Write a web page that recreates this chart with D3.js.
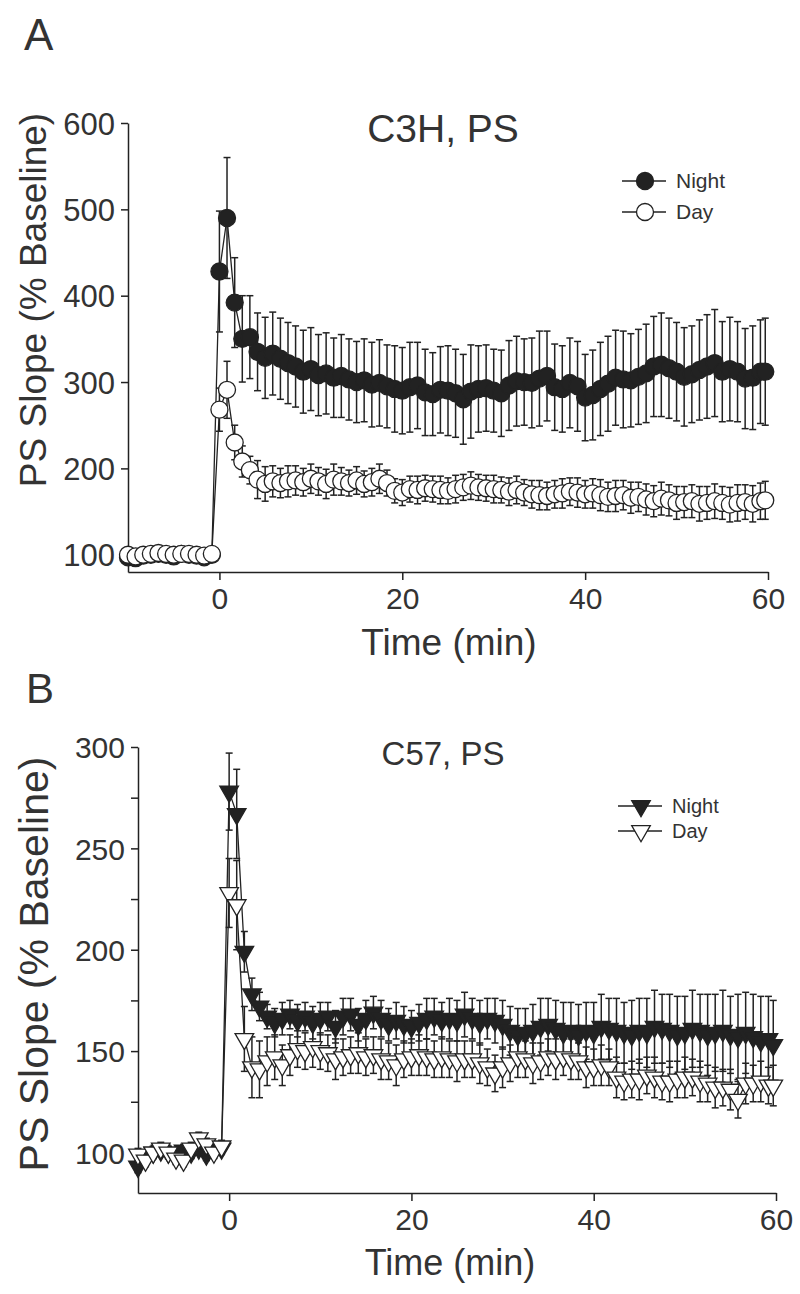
<!DOCTYPE html>
<html lang="en">
<head>
<meta charset="utf-8">
<title>PS slope</title>
<script src="https://cdnjs.cloudflare.com/ajax/libs/d3/7.8.5/d3.min.js"></script>
<style>
  body { margin: 0; background: #fff; }
  svg text { font-family: "Liberation Sans", Arial, sans-serif; fill: #333; }
  .axis path, .axis line { stroke: #222; stroke-width: 1.5px; }
  .axis text { fill: #333; }
</style>
</head>
<body>
<div id="chart"></div>
<script>
// time points (min), baseline then post-stimulation
var times = [-10, -9.17, -8.33, -7.5, -6.67, -5.83, -5, -4.17, -3.33, -2.5, -1.67, -0.83,
  0, 0.83, 1.67, 2.5, 3.33, 4.17, 5, 5.83, 6.67, 7.5, 8.33, 9.17, 10, 10.83, 11.67, 12.5,
  13.33, 14.17, 15, 15.83, 16.67, 17.5, 18.33, 19.17, 20, 20.83, 21.67, 22.5, 23.33, 24.17,
  25, 25.83, 26.67, 27.5, 28.33, 29.17, 30, 30.83, 31.67, 32.5, 33.33, 34.17, 35, 35.83,
  36.67, 37.5, 38.33, 39.17, 40, 40.83, 41.67, 42.5, 43.33, 44.17, 45, 45.83, 46.67, 47.5,
  48.33, 49.17, 50, 50.83, 51.67, 52.5, 53.33, 54.17, 55, 55.83, 56.67, 57.5, 58.33, 59.17, 59.7];

// panel A: C3H
var c3hNight = [97, 96, 99, 100, 101, 100, 98, 101, 100, 99, 97, 100,
  428, 490, 392, 350, 352, 335, 328, 333, 327, 322, 318, 312, 315, 308, 310, 305, 307, 303,
  300, 302, 297, 299, 295, 292, 290, 294, 296, 288, 286, 291, 290, 287, 280, 289, 292, 293,
  290, 287, 296, 301, 300, 299, 304, 307, 294, 292, 299, 295, 282, 285, 292, 298, 305, 303,
  302, 306, 310, 318, 320, 316, 312, 306, 309, 314, 318, 322, 312, 315, 312, 304, 305, 312, 312];
var c3hNightErr = [3, 3, 3, 3, 3, 3, 3, 3, 3, 3, 3, 3,
  70, 70, 52, 50, 48, 45, 47, 48, 47, 47, 47, 48, 48, 47, 47, 46, 48, 47,
  47, 48, 49, 50, 48, 50, 50, 52, 50, 50, 48, 50, 52, 51, 52, 54, 50, 50,
  48, 50, 52, 52, 50, 52, 55, 52, 50, 50, 52, 52, 50, 52, 54, 55, 55, 56,
  54, 55, 57, 58, 60, 58, 57, 57, 56, 58, 60, 62, 58, 60, 58, 58, 60, 60, 62];
var c3hDay = [100, 98, 100, 101, 102, 101, 100, 101, 101, 100, 99, 101,
  268, 291, 230, 208, 198, 187, 182, 185, 183, 185, 186, 184, 188, 185, 182, 187, 185, 183,
  186, 182, 184, 188, 183, 174, 172, 176, 175, 177, 176, 175, 174, 176, 178, 180, 178, 177,
  176, 175, 173, 175, 172, 170, 169, 168, 170, 171, 173, 172, 170, 171, 169, 167, 168, 169,
  166, 167, 164, 162, 165, 163, 160, 161, 162, 159, 160, 162, 160, 158, 160, 161, 159, 162, 163];
var c3hDayErr = [3, 3, 3, 3, 3, 3, 3, 3, 3, 3, 3, 3,
  25, 33, 20, 18, 16, 22, 20, 18, 17, 18, 17, 16, 17, 16, 17, 18, 16, 15,
  16, 15, 16, 17, 15, 14, 15, 15, 16, 15, 15, 16, 15, 16, 15, 16, 15, 15,
  16, 15, 16, 16, 15, 16, 17, 16, 16, 17, 16, 17, 16, 17, 18, 17, 18, 17,
  18, 17, 18, 18, 19, 18, 19, 18, 19, 20, 19, 20, 19, 20, 21, 20, 21, 21, 22];

// panel B: C57
var c57Night = [93, 97, 100, 101, 100, 98, 101, 100, 102, 99, 101, 102,
  278, 267, 199, 178, 172, 167, 164, 166, 168, 165, 167, 164, 166, 167, 162, 167, 168, 163,
  166, 169, 166, 163, 165, 163, 162, 164, 166, 167, 165, 166, 165, 168, 166, 164, 166, 165,
  163, 160, 158, 159, 160, 162, 163, 161, 159, 160, 158, 160, 159, 162, 161, 160, 159, 158,
  160, 159, 162, 161, 160, 158, 159, 161, 160, 158, 159, 160, 158, 157, 159, 157, 155, 156, 153];
var c57NightErr = [3, 3, 3, 3, 3, 3, 3, 3, 3, 3, 3, 3,
  19, 22, 10, 8, 7, 6, 7, 8, 7, 8, 7, 8, 8, 7, 8, 9, 8, 8,
  9, 8, 9, 8, 9, 9, 8, 9, 10, 9, 9, 10, 10, 11, 10, 11, 10, 11,
  12, 12, 13, 12, 13, 14, 13, 14, 15, 14, 15, 14, 15, 16, 15, 16, 15, 17,
  16, 17, 18, 17, 18, 19, 18, 19, 18, 20, 19, 20, 19, 21, 20, 21, 22, 21, 22];
var c57Day = [99, 96, 100, 102, 100, 97, 96, 102, 107, 104, 100, 103,
  228, 222, 156, 142, 141, 145, 147, 143, 148, 151, 150, 152, 150, 149, 146, 147, 148, 149,
  147, 148, 146, 145, 143, 146, 147, 148, 147, 146, 147, 146, 145, 146, 146, 144, 142, 139,
  142, 144, 147, 146, 144, 145, 147, 146, 147, 146, 145, 142, 142, 143, 142, 137, 135, 136,
  136, 138, 137, 135, 135, 136, 137, 137, 135, 134, 132, 132, 131, 126, 134, 134, 135, 133, 133];
var c57DayErr = [3, 3, 3, 3, 3, 3, 3, 3, 3, 3, 3, 3,
  17, 22, 16, 15, 14, 12, 11, 10, 10, 9, 9, 10, 9, 9, 10, 9, 9, 10,
  9, 9, 10, 9, 10, 9, 9, 10, 9, 9, 10, 9, 10, 9, 9, 10, 9, 9,
  10, 9, 10, 9, 10, 9, 9, 10, 9, 10, 9, 10, 9, 10, 9, 10, 9, 9,
  10, 9, 10, 9, 10, 9, 10, 9, 10, 9, 10, 9, 10, 9, 10, 9, 10, 9, 10];

var xTicks = [0, 20, 40, 60];
var c3hTicks = [100, 200, 300, 400, 500, 600];
var c57Ticks = [100, 150, 200, 250, 300];
var c57Minor = [125, 175, 225, 275];
var legendLabels = ["Night", "Day"];

var W = 800, H = 1294;
var svg = d3.select("#chart").append("svg").attr("width", W).attr("height", H);
var ink = "#222";

function drawPanel(p) {
  var x = d3.scaleLinear().domain([-10, 60]).range(p.xr);
  var y = d3.scaleLinear().domain(p.yd).range(p.yr);
  var g = svg.append("g");

  // axes
  var xa = g.append("g").attr("class", "axis")
    .attr("transform", "translate(0," + p.yr[0] + ")")
    .call(d3.axisBottom(x).tickValues(xTicks).tickSize(8).tickSizeOuter(0).tickPadding(8));
  xa.selectAll("text").attr("font-size", p.xtf);
  var ya = g.append("g").attr("class", "axis")
    .attr("transform", "translate(" + p.xr[0] + ",0)")
    .call(d3.axisLeft(y).tickValues(p.yt).tickSize(7).tickSizeOuter(0).tickPadding(6));
  ya.selectAll("text").attr("font-size", p.ytf).attr("dy", "0.36em");
  if (p.minor) {
    g.append("g").attr("class", "axis")
      .attr("transform", "translate(" + p.xr[0] + ",0)")
      .call(d3.axisLeft(y).tickValues(p.minor).tickSize(7).tickFormat(""))
      .select(".domain").remove();
  }

  // series
  p.series.forEach(function (s) {
    var pts = times.map(function (t, i) { return { t: t, v: s.v[i], e: s.e[i] }; });
    g.append("path").datum(pts)
      .attr("fill", "none").attr("stroke", ink).attr("stroke-width", 1.3)
      .attr("d", d3.line().x(function (d) { return x(d.t); }).y(function (d) { return y(d.v); }));
    var eb = g.append("g").attr("stroke", ink).attr("stroke-width", 1.5);
    eb.selectAll("line.v").data(pts).enter().append("line")
      .attr("x1", function (d) { return x(d.t); }).attr("x2", function (d) { return x(d.t); })
      .attr("y1", function (d) { return y(d.v - d.e); }).attr("y2", function (d) { return y(d.v + d.e); });
    [1, -1].forEach(function (sg) {
      eb.selectAll(null).data(pts).enter().append("line")
        .attr("x1", function (d) { return x(d.t) - 3.5; }).attr("x2", function (d) { return x(d.t) + 3.5; })
        .attr("y1", function (d) { return y(d.v + sg * d.e); }).attr("y2", function (d) { return y(d.v + sg * d.e); });
    });
    drawMarks(g, pts.map(function (d) { return [x(d.t), y(d.v)]; }), p.shape, s.fill);
  });

  // titles
  g.append("text").attr("x", p.letter[0]).attr("y", p.letter[1])
    .attr("font-size", p.letter[2]).text(p.tag);
  g.append("text").attr("x", p.title[0]).attr("y", p.title[1]).attr("text-anchor", "middle")
    .attr("font-size", p.title[2]).text(p.name);
  g.append("text").attr("transform", "translate(" + p.ylab[0] + "," + p.ylab[1] + ") rotate(-90)")
    .attr("text-anchor", "middle").attr("font-size", p.ylab[2]).text("PS Slope (% Baseline)");
  g.append("text").attr("x", p.xlab[0]).attr("y", p.xlab[1]).attr("text-anchor", "middle")
    .attr("font-size", p.xlab[2]).text("Time (min)");

  // legend
  p.series.forEach(function (s, i) {
    var ly = p.leg[1] + i * p.leg[2];
    g.append("line").attr("x1", p.leg[0] - 23).attr("x2", p.leg[0] + 21)
      .attr("y1", ly).attr("y2", ly).attr("stroke", ink).attr("stroke-width", 1.3);
    drawMarks(g, [[p.leg[0], ly]], p.shape, s.fill);
    g.append("text").attr("x", p.leg[0] + 31).attr("y", ly + 7)
      .attr("font-size", p.leg[3]).text(legendLabels[i]);
  });
}

function drawMarks(g, xy, shape, fill) {
  if (shape === "circle") {
    g.selectAll(null).data(xy).enter().append("circle")
      .attr("cx", function (d) { return d[0]; }).attr("cy", function (d) { return d[1]; })
      .attr("r", 8.5).attr("fill", fill).attr("stroke", ink).attr("stroke-width", 1.3);
  } else {
    var tri = d3.symbol().type(d3.symbolTriangle).size(150);
    g.selectAll(null).data(xy).enter().append("path")
      .attr("d", tri)
      .attr("transform", function (d) { return "translate(" + d[0] + "," + d[1] + ") rotate(180)"; })
      .attr("fill", fill).attr("stroke", ink).attr("stroke-width", 1.3);
  }
}

drawPanel({
  tag: "A", name: "C3H, PS", shape: "circle",
  xr: [128, 768], yd: [80, 600], yr: [572, 123], yt: c3hTicks,
  xtf: 30, ytf: 31,
  letter: [24, 50, 44], title: [443, 142, 39], ylab: [46, 300, 37], xlab: [449, 655, 37],
  leg: [645, 181, 31, 21],
  series: [{ v: c3hNight, e: c3hNightErr, fill: "#222" },
           { v: c3hDay, e: c3hDayErr, fill: "#fff" }]
});

drawPanel({
  tag: "B", name: "C57, PS", shape: "tri",
  xr: [138, 776], yd: [80, 300], yr: [1193, 747], yt: c57Ticks, minor: c57Minor,
  xtf: 30, ytf: 30,
  letter: [26, 703, 42], title: [443, 765, 33], ylab: [48, 964, 41], xlab: [450, 1275, 36],
  leg: [641, 806, 25, 20],
  series: [{ v: c57Night, e: c57NightErr, fill: "#222" },
           { v: c57Day, e: c57DayErr, fill: "#fff" }]
});
</script>
</body>
</html>
